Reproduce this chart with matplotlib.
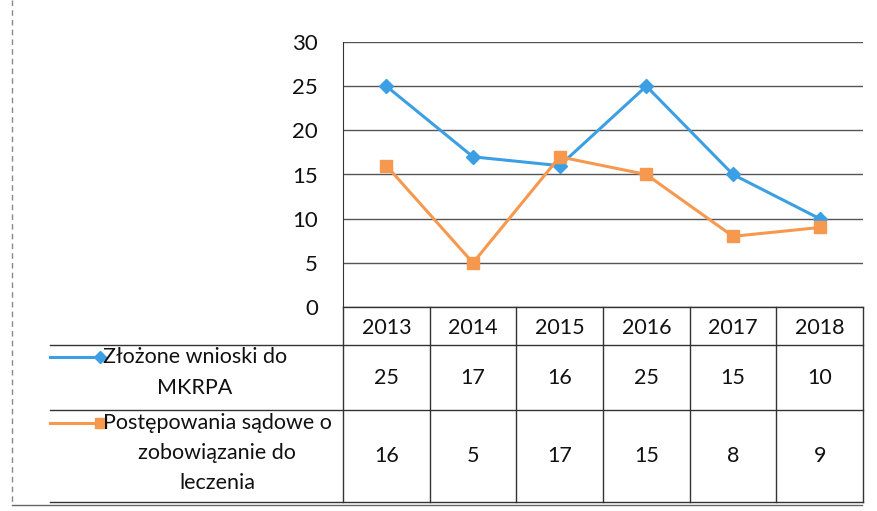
import matplotlib
matplotlib.use("Agg")
import matplotlib.pyplot as plt

# data
years = ["2013", "2014", "2015", "2016", "2017", "2018"]
wnioski = [25, 17, 16, 25, 15, 10]
postepowania = [16, 5, 17, 15, 8, 9]
label_wnioski = "Złożone wnioski do\nMKRPA"
label_post = "Postępowania sądowe o\nzobowiązanie do\nleczenia"
yticks = [0, 5, 10, 15, 20, 25, 30]

blue = "#3d9fe3"
orange = "#f7984f"
ink = "#111111"
plt.rcParams["font.family"] = ["Lato", "DejaVu Sans"]
fs = 15.5

W, H = 877, 511
fig = plt.figure(figsize=(W / 100, H / 100), dpi=100)

def fx(px):
    return px / W

def fy(py):
    return 1 - py / H

# wykres
left, right, top, bottom = 343, 863, 42, 307
ax = fig.add_axes([fx(left), fy(bottom), fx(right - left), fy(top) - fy(bottom)])
x = [i + 0.5 for i in range(len(years))]
ax.plot(x, wnioski, color=blue, lw=2.2, marker="D", ms=7, zorder=3)
ax.plot(x, postepowania, color=orange, lw=2.2, marker="s", ms=9, zorder=3)
ax.set_xlim(0, len(years))
ax.set_ylim(0, 30)
ax.set_yticks(yticks)
ax.set_yticklabels([str(t) for t in yticks], fontsize=16, color=ink)
ax.tick_params(axis="y", length=0, pad=18)
ax.set_xticks([])
ax.grid(axis="y", color="#555555", lw=1)
for s in ["top", "right", "bottom"]:
    ax.spines[s].set_visible(False)
ax.spines["left"].set_color("#333333")
ax.set_axisbelow(True)

# tabela
tleft = 50
col_w = (right - left) / len(years)
ta = fig.add_axes([fx(tleft), fy(502), fx(right - tleft), fy(bottom) - fy(502)])
ta.set_xlim(-(left - tleft) / col_w, len(years))
ta.set_ylim(502, bottom)
ta.axis("off")
lc = "#333333"
rows = [bottom, 345, 410, 502]
ta.plot([0, len(years)], [rows[0], rows[0]], color=lc, lw=1, clip_on=False)
for r in rows[1:]:
    ta.plot([ta.get_xlim()[0], len(years)], [r, r], color=lc, lw=1, clip_on=False)
for i in range(len(years) + 1):
    ta.plot([i, i], [bottom, 502], color=lc, lw=1, clip_on=False)
for i, yr in enumerate(years):
    ta.text(i + 0.5, (rows[0] + rows[1]) / 2 + 2, yr, ha="center", va="center", fontsize=fs, color=ink)
    ta.text(i + 0.5, (rows[1] + rows[2]) / 2, str(wnioski[i]), ha="center", va="center", fontsize=fs, color=ink)
    ta.text(i + 0.5, (rows[2] + rows[3]) / 2, str(postepowania[i]), ha="center", va="center", fontsize=fs, color=ink)

# legenda w tabeli
k0 = ta.get_xlim()[0]
k1 = k0 + 50 / col_w
ta.plot([k0, k1], [357, 357], color=blue, lw=2.2, marker="D", ms=6, markevery=[1], clip_on=False)
ta.plot([k0, k1], [423, 423], color=orange, lw=2.2, marker="s", ms=7, markevery=[1], clip_on=False)
tx = k0 + 53 / col_w
ta.text(tx, 347, label_wnioski, ha="left", va="top", multialignment="center",
        fontsize=fs, color=ink, linespacing=1.7)
ta.text(tx, 413, label_post, ha="left", va="top", multialignment="center",
        fontsize=fs, color=ink, linespacing=1.62)

# ramka skanu
fig.add_artist(plt.Line2D([fx(12), fx(12)], [fy(0), fy(505)], color="#888888", lw=1, ls=(0, (4, 3))))
fig.add_artist(plt.Line2D([fx(12), fx(862)], [fy(505), fy(505)], color="#666666", lw=1))

fig.savefig("out.png", dpi=100)
